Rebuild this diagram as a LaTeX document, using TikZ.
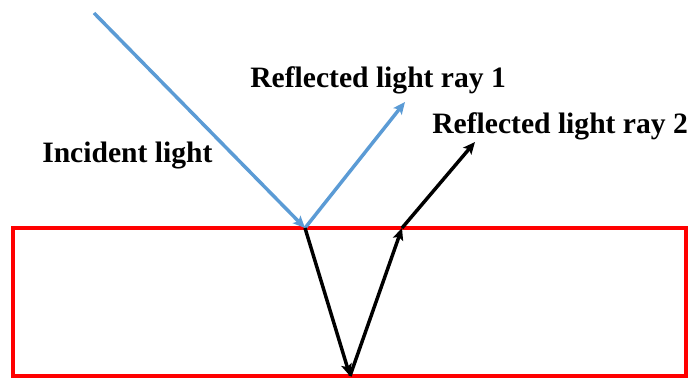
\documentclass[tikz,border=0pt]{standalone}
\usepackage{fontspec}
\setmainfont{Liberation Serif}
\usetikzlibrary{arrows.meta}

\definecolor{raybl}{HTML}{5B9BD5}
\tikzset{
  ray/.style={line width=2.6pt, -{Stealth[length=9pt,width=8pt,inset=2pt]}},
  lbl/.style={anchor=base west, inner sep=0pt, font=\fontsize{22.2}{26}\selectfont\bfseries}
}

\begin{document}
\begin{tikzpicture}[x=0.75pt, y=-0.75pt]
            \useasboundingbox (0,0) rectangle (688,378);
            % glass block
            \draw[red, line width=3pt] (13,228) rectangle (686,376);
            % ray points
            \coordinate (src) at (94,13);
            \coordinate (hit) at (305,228);
            \coordinate (tip1) at (405,102);
            \coordinate (bot) at (350,376);
            \coordinate (out) at (402,228);
            \coordinate (tip2) at (475,142);
            \draw[ray, raybl] (src) -- (hit);
            \draw[ray, raybl] (hit) -- (tip1);
            \draw[ray, black] (hit) -- (bot);
            \draw[ray, black] (bot) -- (out);
            \draw[ray, black] (out) -- (tip2);
            \node[lbl] (inc) at (42,162) {Incident light};
            \node[lbl] (ref1) at (250,87) {Reflected light ray 1};
            \node[lbl] (ref2) at (432,133) {Reflected light ray 2};
        \end{tikzpicture}
\end{document}
